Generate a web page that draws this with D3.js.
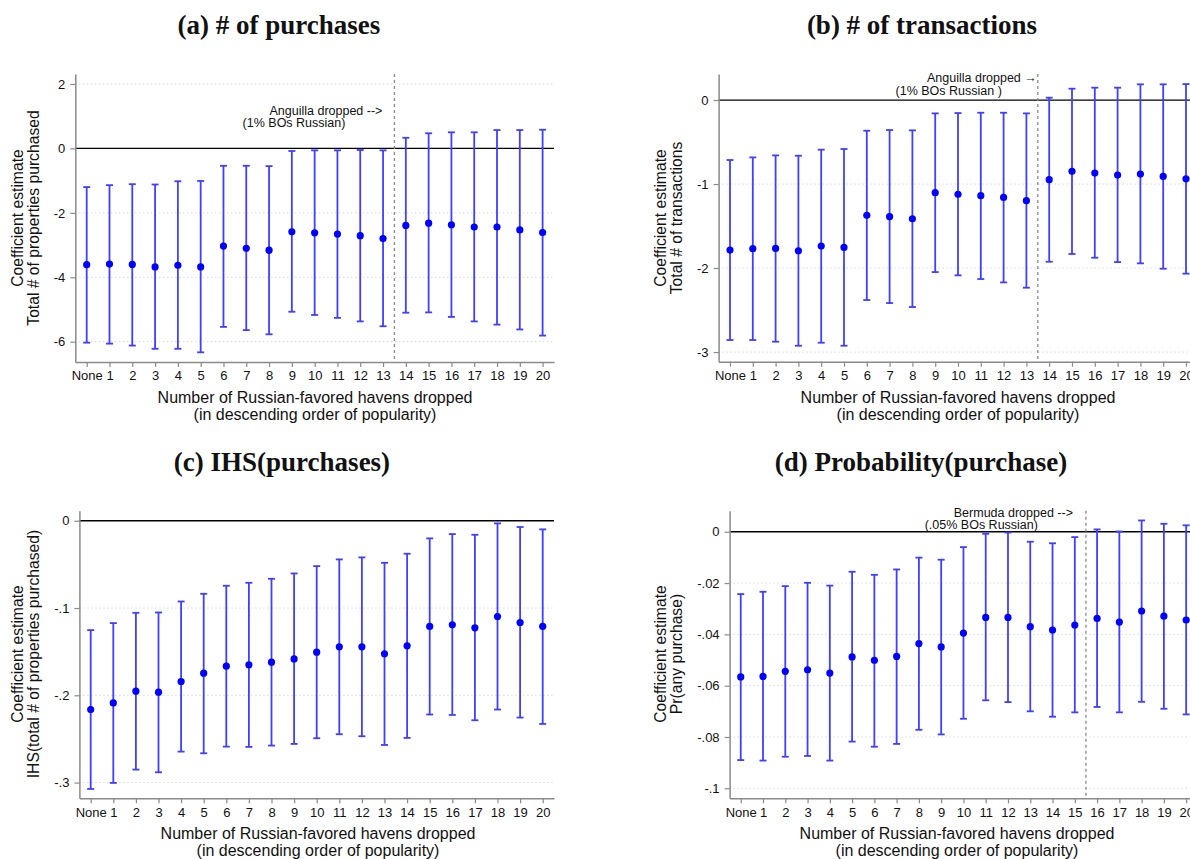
<!DOCTYPE html>
<html>
<head>
<meta charset="utf-8">
<script src="https://cdn.jsdelivr.net/npm/d3@7"></script>
<style>
  body { margin: 0; background: #fff; }
  svg text { font-family: "Liberation Sans", Arial, sans-serif; fill: #111; }
  .panel-title { font-family: "Liberation Serif", "Times New Roman", serif; font-weight: bold; }
</style>
</head>
<body>
<div id="chart"></div>
<script>
// Category labels on the x axis
const havenLabels = ["None", "1", "2", "3", "4", "5", "6", "7", "8", "9", "10",
  "11", "12", "13", "14", "15", "16", "17", "18", "19", "20"];

// (a) # of purchases
const purchCoef = [-3.61, -3.59, -3.60, -3.68, -3.63, -3.68, -3.03, -3.10, -3.16, -2.59, -2.62,
  -2.66, -2.71, -2.80, -2.39, -2.32, -2.37, -2.44, -2.44, -2.53, -2.61];
const purchLo = [-6.03, -6.06, -6.12, -6.22, -6.22, -6.33, -5.54, -5.64, -5.77, -5.07, -5.17,
  -5.26, -5.37, -5.52, -5.10, -5.09, -5.23, -5.37, -5.47, -5.62, -5.81];
const purchHi = [-1.20, -1.14, -1.11, -1.12, -1.02, -1.01, -0.54, -0.54, -0.55, -0.08, -0.06,
  -0.06, -0.05, -0.06, 0.33, 0.47, 0.50, 0.50, 0.57, 0.57, 0.58];
const purchTicks = [2, 0, -2, -4, -6];
const purchTickLabels = ["2", "0", "-2", "-4", "-6"];

// (b) # of transactions
const transCoef = [-1.786, -1.770, -1.766, -1.794, -1.738, -1.754, -1.373, -1.389, -1.413, -1.103, -1.123,
  -1.139, -1.159, -1.198, -0.948, -0.849, -0.869, -0.893, -0.881, -0.909, -0.937];
const transLo = [-2.857, -2.857, -2.877, -2.925, -2.889, -2.925, -2.381, -2.417, -2.464, -2.048, -2.087,
  -2.131, -2.171, -2.234, -1.925, -1.833, -1.877, -1.929, -1.944, -2.008, -2.067];
const transHi = [-0.714, -0.683, -0.659, -0.663, -0.591, -0.583, -0.365, -0.357, -0.361, -0.159, -0.155,
  -0.151, -0.151, -0.159, 0.028, 0.135, 0.147, 0.147, 0.187, 0.187, 0.190];
const transTicks = [0, -1, -2, -3];
const transTickLabels = ["0", "-1", "-2", "-3"];

// (c) IHS(purchases)
const ihsCoef = [-0.2163, -0.2087, -0.1953, -0.1964, -0.1842, -0.1747, -0.1666, -0.1651, -0.1621, -0.1583, -0.1506,
  -0.1445, -0.1445, -0.1525, -0.1433, -0.1211, -0.1193, -0.1227, -0.1097, -0.1166, -0.1211];
const ihsLo = [-0.3073, -0.3004, -0.2851, -0.2882, -0.2645, -0.2664, -0.2588, -0.2591, -0.2576, -0.2557, -0.2492,
  -0.2446, -0.2469, -0.2569, -0.2488, -0.2220, -0.2225, -0.2286, -0.2163, -0.2255, -0.2328];
const ihsHi = [-0.1253, -0.1173, -0.1055, -0.1051, -0.0925, -0.0837, -0.0745, -0.0711, -0.0665, -0.0604, -0.0520,
  -0.0443, -0.0420, -0.0482, -0.0378, -0.0202, -0.0153, -0.0161, -0.0030, -0.0072, -0.0099];
const ihsTicks = [0, -0.1, -0.2, -0.3];
const ihsTickLabels = ["0", "-.1", "-.2", "-.3"];

// (d) Probability(purchase)
const probCoef = [-0.0566, -0.0564, -0.0544, -0.0538, -0.0551, -0.0488, -0.0501, -0.0486, -0.0436, -0.0449, -0.0395,
  -0.0334, -0.0334, -0.0370, -0.0383, -0.0364, -0.0338, -0.0352, -0.0309, -0.0329, -0.0344];
const probLo = [-0.0890, -0.0892, -0.0877, -0.0874, -0.0892, -0.0818, -0.0838, -0.0827, -0.0772, -0.0790, -0.0729,
  -0.0657, -0.0664, -0.0700, -0.0721, -0.0704, -0.0683, -0.0704, -0.0663, -0.0690, -0.0712];
const probHi = [-0.0243, -0.0234, -0.0212, -0.0199, -0.0210, -0.0156, -0.0168, -0.0147, -0.0101, -0.0109, -0.0060,
  -0.0008, -0.0003, -0.0039, -0.0045, -0.0021, 0.0009, 0.0001, 0.0044, 0.0031, 0.0025];
const probTicks = [0, -0.02, -0.04, -0.06, -0.08, -0.1];
const probTickLabels = ["0", "-.02", "-.04", "-.06", "-.08", "-.1"];

const xTitleLines = ["Number of Russian-favored havens dropped", "(in descending order of popularity)"];

const svg = d3.select("#chart")
    .append("svg")
    .attr("width", 1190)
    .attr("height", 859)
    .style("display", "block");

svg.append("rect").attr("width", 1190).attr("height", 859).attr("fill", "#fff");

// Panel layouts
const panels = [
  {
    title: "(a) # of purchases", titleX: 279, titleY: 34,
    box: { left: 75.3, right: 554, top: 74, bottom: 362 },
    yDomain: [-6.63, 2.31], ticks: purchTicks, tickLabels: purchTickLabels,
    coef: purchCoef, lo: purchLo, hi: purchHi,
    yLabel: ["Coefficient estimate", "Total # of properties purchased"], yLabelX: 17, yLabelY: 218,
    cutAfter: "13",
    notes: [
      { text: "Anguilla dropped -->", dx: -12, dy: 40.5 },
      { text: "(1% BOs Russian)", dx: -49, dy: 53.3 }
    ]
  },
  {
    title: "(b) # of transactions", titleX: 922, titleY: 34,
    box: { left: 718.6, right: 1197.4, top: 74, bottom: 361.7 },
    yDomain: [-3.115, 0.31], ticks: transTicks, tickLabels: transTickLabels,
    coef: transCoef, lo: transLo, hi: transHi,
    yLabel: ["Coefficient estimate", "Total # of transactions"], yLabelX: 660, yLabelY: 218,
    cutAfter: "13",
    notes: [
      { text: "Anguilla dropped \u2192", dx: -1, dy: 7.8 },
      { text: "(1% BOs Russian )", dx: -36, dy: 20.5 }
    ]
  },
  {
    title: "(c) IHS(purchases)", titleX: 282, titleY: 471,
    box: { left: 79.4, right: 554, top: 510.7, bottom: 798.3 },
    yDomain: [-0.318, 0.0115], ticks: ihsTicks, tickLabels: ihsTickLabels,
    coef: ihsCoef, lo: ihsLo, hi: ihsHi,
    yLabel: ["Coefficient estimate", "IHS(total # of properties purchased)"], yLabelX: 17, yLabelY: 654,
    cutAfter: null,
    notes: []
  },
  {
    title: "(d) Probability(purchase)", titleX: 921, titleY: 471,
    box: { left: 729.6, right: 1197.3, top: 510.7, bottom: 798.3 },
    yDomain: [-0.1039, 0.0082], ticks: probTicks, tickLabels: probTickLabels,
    coef: probCoef, lo: probLo, hi: probHi,
    yLabel: ["Coefficient estimate", "Pr(any purchase)"], yLabelX: 660, yLabelY: 654,
    cutAfter: "15",
    notes: [
      { text: "Bermuda dropped -->", dx: -13, dy: 6 },
      { text: "(.05% BOs Russian)", dx: -48, dy: 18 }
    ]
  }
];

panels.forEach(drawPanel);

function drawPanel(p) {
    const b = p.box;
    const g = svg.append("g");

    const x = d3.scalePoint()
        .domain(havenLabels)
        .range([b.left, b.right])
        .padding(0.5);

    const y = d3.scaleLinear()
        .domain(p.yDomain)
        .range([b.bottom, b.top]);

    // Title
    svg.append("text")
        .attr("class", "panel-title")
        .attr("x", p.titleX)
        .attr("y", p.titleY)
        .attr("text-anchor", "middle")
        .style("font-size", "27px")
        .text(p.title);

    // Dotted grid lines
    g.selectAll(".grid")
        .data(p.ticks.filter(t => t !== 0))
        .enter().append("line")
        .attr("x1", b.left)
        .attr("x2", b.right)
        .attr("y1", d => y(d))
        .attr("y2", d => y(d))
        .attr("stroke", "#c8c8c8")
        .attr("stroke-width", 1)
        .attr("stroke-dasharray", "1,3");

    // Zero line
    g.append("line")
        .attr("x1", b.left)
        .attr("x2", b.right)
        .attr("y1", y(0))
        .attr("y2", y(0))
        .attr("stroke", "#000")
        .attr("stroke-width", 1.3);

    // Y axis
    const yAxis = g.append("g")
        .attr("transform", `translate(${b.left},0)`)
        .call(d3.axisLeft(y)
            .tickValues(p.ticks)
            .tickFormat((d, i) => p.tickLabels[i])
            .tickSize(5)
            .tickSizeOuter(0)
            .tickPadding(5));

    // X axis
    const xAxis = g.append("g")
        .attr("transform", `translate(0,${b.bottom})`)
        .call(d3.axisBottom(x).tickSize(5).tickSizeOuter(0).tickPadding(4));

    [yAxis, xAxis].forEach(ax => {
        ax.select(".domain").attr("stroke", "#8a8a8a").attr("stroke-width", 1.5);
        ax.selectAll(".tick line").attr("stroke", "#8a8a8a").attr("stroke-width", 1.2);
        ax.selectAll(".tick text")
            .style("font-family", "'Liberation Sans', Arial, sans-serif")
            .style("font-size", "13px")
            .attr("fill", "#111");
    });

    // Y axis label
    p.yLabel.forEach((line, i) => {
        svg.append("text")
            .attr("transform", `translate(${p.yLabelX + i * 16.5},${p.yLabelY}) rotate(-90)`)
            .attr("text-anchor", "middle")
            .attr("dy", "0.35em")
            .style("font-size", "15.7px")
            .text(line);
    });

    // X axis title
    xTitleLines.forEach((line, i) => {
        svg.append("text")
            .attr("x", p.titleX + 36)
            .attr("y", b.bottom + 41 + i * 17)
            .attr("text-anchor", "middle")
            .style("font-size", "16px")
            .text(line);
    });

    // Cut-off line and notes
    if (p.cutAfter) {
        const cx = x(p.cutAfter) + x.step() / 2;
        g.append("line")
            .attr("x1", cx)
            .attr("x2", cx)
            .attr("y1", b.top)
            .attr("y2", b.bottom)
            .attr("stroke", "#8a8a8a")
            .attr("stroke-width", 1.3)
            .attr("stroke-dasharray", "3,3");

        p.notes.forEach(n => {
            g.append("text")
                .attr("x", cx + n.dx)
                .attr("y", b.top + n.dy)
                .attr("text-anchor", "end")
                .style("font-size", "12.5px")
                .text(n.text);
        });
    }

    // Error bars
    const rows = havenLabels.map((lab, i) => ({ lab, coef: p.coef[i], lo: p.lo[i], hi: p.hi[i] }));
    const bars = g.selectAll(".ci")
        .data(rows)
        .enter().append("g")
        .attr("class", "ci")
        .attr("stroke", "#3f3fff")
        .attr("stroke-width", 1.8);

    bars.append("line")
        .attr("x1", d => x(d.lab))
        .attr("x2", d => x(d.lab))
        .attr("y1", d => y(d.lo))
        .attr("y2", d => y(d.hi));

    [d => y(d.lo), d => y(d.hi)].forEach(fy => {
        bars.append("line")
            .attr("x1", d => x(d.lab) - 3.5)
            .attr("x2", d => x(d.lab) + 3.5)
            .attr("y1", fy)
            .attr("y2", fy);
    });

    // Point estimates
    g.selectAll(".pt")
        .data(rows)
        .enter().append("circle")
        .attr("class", "pt")
        .attr("cx", d => x(d.lab))
        .attr("cy", d => y(d.coef))
        .attr("r", 3.6)
        .attr("fill", "#0000ff");
}
</script>
</body>
</html>
